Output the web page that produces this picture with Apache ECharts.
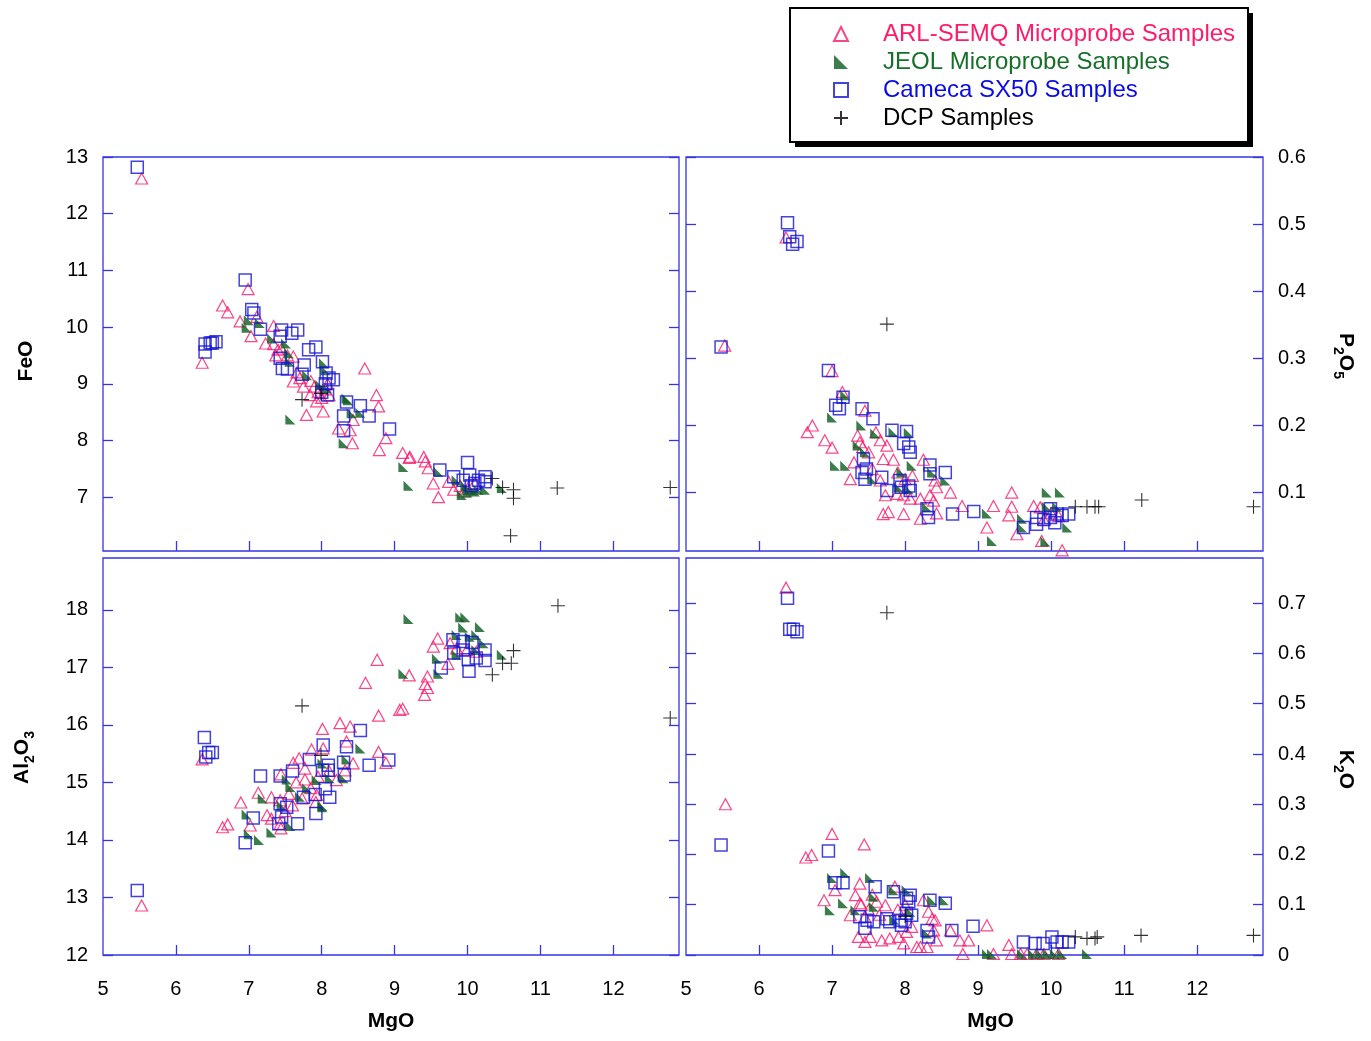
<!DOCTYPE html>
<html>
<head>
<meta charset="utf-8">
<title>MgO variation diagrams</title>
<script src="https://cdn.jsdelivr.net/npm/echarts@6/dist/echarts.min.js"></script>
<style>
  html, body { margin: 0; padding: 0; background: #fff; }
  #chart { width: 1371px; height: 1041px; }
</style>
</head>
<body>
<div id="chart"></div>
<script>
// tick labels
const mgoTicks = [5, 6, 7, 8, 9, 10, 11, 12]
const feoTicks = [7, 8, 9, 10, 11, 12, 13]
const p2o5Ticks = [0.1, 0.2, 0.3, 0.4, 0.5, 0.6]
const al2o3Ticks = [12, 13, 14, 15, 16, 17, 18]
const k2oTicks = [0, 0.1, 0.2, 0.3, 0.4, 0.5, 0.6, 0.7]

// FeO vs MgO  [MgO, FeO]
const feoArl = [[5.53,12.62],[6.99,10.67],[6.64,10.38],[6.71,10.26],[6.36,9.37],[7.11,10.18],[6.88,10.10],[7.03,9.84],[7.34,10.02],[7.23,9.71],[7.34,9.70],[7.40,9.60],[7.45,9.62],[7.37,9.50],[7.53,9.50],[7.61,9.48],[7.61,9.04],[7.75,8.95],[7.84,8.80],[7.93,8.69],[7.79,8.45],[8.02,8.51],[8.59,9.27],[8.75,8.80],[8.78,8.60],[8.23,8.21],[8.39,8.18],[8.43,8.36],[8.88,8.04],[8.42,7.95],[8.79,7.83],[9.11,7.78],[9.21,7.71],[9.40,7.71],[9.20,7.69],[9.42,7.63],[9.46,7.51],[9.53,7.24],[9.60,7.00],[9.74,7.27],[9.81,7.13],[7.95,8.85],[8.00,8.75],[8.05,8.90],[8.08,9.00],[7.85,9.05],[7.70,9.10],[7.66,9.20],[7.90,8.95],[8.10,8.80],[9.90,7.20],[10.00,7.15],[10.10,7.25],[9.95,7.10]]
const feoJeol = [[7.00,10.12],[6.97,9.99],[7.15,10.07],[7.32,9.80],[7.51,9.71],[7.55,9.54],[7.56,9.39],[8.03,9.36],[7.57,8.37],[8.36,8.71],[8.53,8.49],[8.41,8.48],[8.30,7.95],[9.12,7.53],[9.19,7.20],[9.60,7.45],[9.92,7.04],[10.03,7.13],[10.15,7.13],[10.24,7.13],[9.85,7.30],[10.47,7.16],[7.98,8.98],[8.07,8.92],[8.05,9.24],[8.34,8.74],[7.80,9.15],[10.00,7.08],[10.10,7.10],[9.97,7.20]]
const feoCam = [[5.47,12.82],[6.95,10.83],[6.40,9.70],[6.47,9.72],[6.50,9.72],[6.55,9.74],[6.40,9.56],[7.04,10.31],[7.07,10.25],[7.16,9.96],[7.45,9.95],[7.67,9.95],[7.43,9.84],[7.59,9.89],[7.43,9.45],[7.46,9.27],[7.53,9.26],[7.82,9.60],[7.92,9.65],[7.76,9.33],[8.01,9.39],[7.73,9.17],[8.06,9.19],[8.10,9.10],[8.16,9.07],[8.05,9.00],[8.00,8.85],[8.08,8.80],[8.34,8.68],[8.53,8.61],[8.65,8.43],[8.30,8.43],[8.30,8.17],[8.93,8.20],[9.62,7.48],[9.81,7.36],[10.00,7.61],[9.94,7.30],[10.03,7.39],[10.10,7.24],[10.24,7.36],[10.24,7.27],[10.05,7.20],[10.15,7.30]]
const feoDcp = [[7.73,8.72],[7.99,8.83],[10.34,7.33],[10.48,7.17],[10.63,7.13],[10.63,6.98],[11.23,7.16],[12.78,7.17],[10.59,6.32]]

// P2O5 vs MgO
const p2o5Arl = [[6.37,0.480],[5.53,0.319],[7.00,0.281],[7.14,0.250],[6.66,0.190],[6.73,0.200],[6.90,0.178],[7.00,0.167],[7.45,0.222],[7.38,0.175],[7.42,0.168],[7.30,0.145],[7.25,0.120],[7.66,0.178],[7.75,0.170],[7.70,0.150],[7.84,0.149],[8.25,0.149],[8.41,0.118],[8.43,0.108],[8.62,0.100],[7.66,0.118],[7.73,0.096],[7.89,0.098],[7.98,0.096],[8.07,0.091],[8.21,0.091],[8.34,0.096],[8.39,0.088],[7.70,0.068],[7.77,0.071],[7.98,0.068],[8.21,0.061],[8.43,0.069],[8.78,0.080],[9.21,0.080],[9.46,0.100],[9.46,0.079],[9.12,0.048],[9.42,0.066],[9.53,0.038],[9.76,0.080],[9.85,0.078],[9.87,0.028],[10.15,0.014],[7.50,0.160],[7.55,0.135],[7.60,0.190],[7.90,0.130],[8.00,0.120],[8.10,0.125],[7.35,0.185],[9.90,0.060],[10.00,0.070],[10.10,0.065]]
const p2o5Jeol = [[7.18,0.245],[7.00,0.212],[7.04,0.140],[7.18,0.140],[7.40,0.200],[7.59,0.188],[7.84,0.190],[8.05,0.189],[8.09,0.140],[8.37,0.130],[8.55,0.118],[7.91,0.108],[8.05,0.105],[8.30,0.078],[9.12,0.069],[9.19,0.028],[9.92,0.027],[9.94,0.100],[10.12,0.100],[9.94,0.079],[10.08,0.079],[9.60,0.061],[9.60,0.048],[10.22,0.048],[7.55,0.120],[7.45,0.160],[7.35,0.170],[7.95,0.130]]
const p2o5Cam = [[6.39,0.502],[6.42,0.481],[6.52,0.474],[6.46,0.470],[5.48,0.317],[6.95,0.282],[7.15,0.242],[7.05,0.230],[7.10,0.225],[7.41,0.225],[7.56,0.210],[7.82,0.193],[8.02,0.191],[7.98,0.173],[8.05,0.168],[8.07,0.160],[8.34,0.141],[8.55,0.130],[8.34,0.128],[7.68,0.123],[7.75,0.103],[7.93,0.118],[7.95,0.108],[8.05,0.110],[8.07,0.103],[7.41,0.130],[7.45,0.120],[7.47,0.135],[7.43,0.150],[8.30,0.076],[8.32,0.063],[8.65,0.068],[8.94,0.072],[9.62,0.048],[9.80,0.063],[9.80,0.053],[9.99,0.076],[9.99,0.063],[10.08,0.068],[10.15,0.066],[10.24,0.068],[10.05,0.055],[9.90,0.060]]
const p2o5Dcp = [[7.75,0.351],[10.33,0.079],[10.49,0.079],[10.60,0.079],[10.65,0.079],[11.24,0.089],[12.77,0.079]]

// Al2O3 vs MgO
const al2o3Arl = [[5.53,12.86],[6.36,15.40],[6.64,14.22],[6.71,14.27],[6.89,14.65],[7.02,14.25],[7.13,14.82],[7.44,15.14],[7.31,14.74],[7.43,14.69],[7.25,14.43],[7.31,14.37],[7.43,14.28],[7.44,14.20],[7.61,15.34],[7.69,15.42],[7.86,15.57],[7.77,15.24],[7.77,15.05],[7.73,14.72],[7.93,14.78],[7.92,14.66],[8.01,15.93],[8.02,15.59],[8.25,16.03],[8.39,15.97],[8.34,15.71],[8.43,15.33],[8.20,15.04],[8.32,15.21],[8.76,17.13],[8.60,16.73],[8.78,16.16],[8.78,15.53],[8.88,15.34],[9.07,16.26],[9.20,16.86],[9.41,16.52],[9.42,16.71],[9.45,16.84],[9.45,16.64],[9.11,16.28],[9.53,17.36],[9.59,17.50],[9.73,17.06],[9.76,17.42],[9.85,17.33],[9.99,17.30],[10.12,17.27],[7.55,14.80],[7.60,14.60],[7.85,14.90],[7.95,15.10],[8.10,15.20],[7.50,14.50],[7.65,15.00]]
const al2o3Jeol = [[6.97,14.44],[7.00,14.10],[7.14,14.00],[7.19,14.72],[7.52,15.05],[7.57,14.92],[7.31,14.13],[7.57,14.24],[7.70,14.75],[7.93,15.04],[8.01,14.59],[8.01,15.33],[8.11,15.07],[8.01,14.57],[8.53,15.59],[8.34,15.40],[8.30,15.07],[9.19,17.84],[9.12,16.89],[9.58,17.15],[9.60,16.89],[9.90,17.87],[9.97,17.87],[9.94,17.69],[10.17,17.70],[9.85,17.56],[10.03,17.53],[10.12,17.56],[10.22,17.42],[9.85,17.22],[10.12,17.30],[10.47,17.22],[7.45,14.60],[7.80,14.90]]
const al2o3Cam = [[5.47,13.12],[6.39,15.78],[6.45,15.52],[6.50,15.52],[6.41,15.44],[6.95,13.95],[7.06,14.38],[7.16,15.11],[7.43,15.11],[7.43,14.63],[7.52,14.57],[7.45,14.40],[7.41,14.28],[7.67,14.28],[7.60,15.20],[7.83,15.40],[7.75,14.74],[7.91,14.79],[7.92,14.46],[8.02,15.65],[8.01,15.21],[8.09,15.30],[8.09,15.21],[8.05,14.89],[8.11,14.74],[8.53,15.90],[8.34,15.62],[8.30,15.35],[8.31,15.13],[8.65,15.30],[8.92,15.39],[9.64,16.99],[9.80,17.48],[9.94,17.45],[10.06,17.43],[9.81,17.25],[9.94,17.30],[10.01,17.13],[10.12,17.16],[10.24,17.30],[10.24,17.12],[10.02,16.93]]
const al2o3Dcp = [[7.73,16.33],[7.99,15.47],[10.63,17.29],[10.48,17.07],[10.60,17.07],[10.34,16.87],[11.24,18.07],[12.78,16.12]]

// K2O vs MgO
const k2oArl = [[6.37,0.731],[5.54,0.300],[7.00,0.241],[6.64,0.194],[6.72,0.199],[7.44,0.220],[6.89,0.109],[7.04,0.129],[7.38,0.142],[7.32,0.119],[7.38,0.103],[7.25,0.079],[7.45,0.076],[7.61,0.106],[7.73,0.099],[7.86,0.136],[7.36,0.036],[7.45,0.026],[7.52,0.036],[7.68,0.029],[7.79,0.033],[7.91,0.036],[7.98,0.023],[8.09,0.056],[8.02,0.046],[8.16,0.016],[8.21,0.016],[8.25,0.109],[8.32,0.086],[8.37,0.072],[8.41,0.069],[8.39,0.049],[8.43,0.029],[8.30,0.016],[8.62,0.049],[8.75,0.029],[8.87,0.029],[8.79,0.002],[9.12,0.059],[9.21,0.002],[9.42,0.020],[9.46,0.002],[9.58,0.002],[9.67,0.002],[9.80,0.002],[9.90,0.002],[10.10,0.002],[7.50,0.090],[7.65,0.080],[7.90,0.090],[8.00,0.100],[7.55,0.120],[7.40,0.100]]
const k2oJeol = [[7.00,0.153],[7.18,0.163],[7.52,0.153],[6.97,0.089],[7.15,0.103],[7.57,0.116],[7.32,0.089],[7.57,0.096],[7.84,0.129],[8.02,0.129],[8.07,0.086],[8.37,0.109],[8.53,0.109],[8.30,0.043],[9.12,0.002],[9.19,0.002],[9.60,0.002],[9.75,0.002],[9.85,0.002],[9.95,0.002],[10.05,0.002],[10.15,0.002],[10.49,0.002],[7.85,0.070]]
const k2oCam = [[6.39,0.710],[6.42,0.648],[6.47,0.648],[6.52,0.643],[5.48,0.219],[6.95,0.207],[7.04,0.144],[7.15,0.144],[7.59,0.136],[7.38,0.076],[7.48,0.069],[7.57,0.066],[7.45,0.053],[7.75,0.072],[7.79,0.066],[7.93,0.069],[7.95,0.059],[7.84,0.126],[8.02,0.113],[8.05,0.106],[8.07,0.119],[8.02,0.083],[8.09,0.079],[8.00,0.066],[8.34,0.109],[8.55,0.103],[8.30,0.049],[8.32,0.036],[8.64,0.049],[8.93,0.057],[9.62,0.026],[9.78,0.023],[9.89,0.023],[10.01,0.036],[10.08,0.026],[10.15,0.026],[10.24,0.026]]
const k2oDcp = [[7.75,0.681],[8.00,0.077],[10.33,0.036],[10.49,0.033],[10.60,0.033],[10.63,0.036],[11.23,0.039],[12.77,0.039]]

const FONT = "'Liberation Sans', Arial, sans-serif"
const FRAME = '#3535e6'
const PINK = '#f7186c'
const GREEN = '#0b5d1f'
const BLUE = '#1414d2'

const KINDS = [
  { name: 'ARL-SEMQ Microprobe Samples', text: '#ff1a6a', symbol: 'triangle', size: [12, 11],
    itemStyle: { color: 'transparent', borderColor: PINK, borderWidth: 1.2 } },
  { name: 'JEOL Microprobe Samples', text: '#16702a', symbol: 'path://M0,0 L0,10 L10,10 Z', size: [10, 10],
    itemStyle: { color: GREEN, borderColor: GREEN, borderWidth: 0 } },
  { name: 'Cameca SX50 Samples', text: '#0a0ae6', symbol: 'rect', size: 12,
    itemStyle: { color: 'transparent', borderColor: BLUE, borderWidth: 1.5 } },
  { name: 'DCP Samples', text: '#000', symbol: 'path://M5,0 L5,10 M0,5 L10,5', size: 14,
    itemStyle: { color: '#000', borderColor: '#000', borderWidth: 1.1 } },
]

const panels = [
  { box: [103, 157, 576, 394], y: [6.05, 13], ticks: feoTicks, side: 'left', xLabel: false,
    name: '{b|FeO}', namePad: [0, 14, 0, 0], data: [feoArl, feoJeol, feoCam, feoDcp] },
  { box: [686, 157, 577, 394], y: [0.013, 0.6], ticks: p2o5Ticks, side: 'right', xLabel: false,
    name: '{b|P}{s|2}{b|O}{s|5}', namePad: [0, 0, 0, 4], data: [p2o5Arl, p2o5Jeol, p2o5Cam, p2o5Dcp] },
  { box: [103, 558, 576, 397], y: [12, 18.9], ticks: al2o3Ticks, side: 'left', xLabel: true,
    name: '{b|Al}{s|2}{b|O}{s|3}', namePad: [0, 2, 0, 0], data: [al2o3Arl, al2o3Jeol, al2o3Cam, al2o3Dcp] },
  { box: [686, 558, 577, 397], y: [0, 0.79], ticks: k2oTicks, side: 'right', xLabel: true,
    name: '{b|K}{s|2}{b|O}', namePad: [0, 0, 0, 26], data: [k2oArl, k2oJeol, k2oCam, k2oDcp] },
]

const tickStyle = { show: true, inside: true, length: 10, lineStyle: { color: FRAME, width: 1.3 } }
const labelStyle = { color: '#000', fontSize: 20, fontFamily: FONT }
const nameRich = {
  b: { fontSize: 21, fontWeight: 'bold', fontFamily: FONT, color: '#000', verticalAlign: 'top' },
  s: { fontSize: 14, fontWeight: 'bold', fontFamily: FONT, color: '#000', verticalAlign: 'bottom', padding: [11, 0, 0, 0] },
}

const grid = [], xAxis = [], yAxis = [], series = []
panels.forEach((p, i) => {
  grid.push({ left: p.box[0], top: p.box[1], width: p.box[2], height: p.box[3],
    show: true, borderColor: FRAME, borderWidth: 1.3, backgroundColor: 'transparent' })
  xAxis.push({
    type: 'value', gridIndex: i, min: 5, max: 12.9,
    axisLine: { show: false }, splitLine: { show: false },
    axisTick: { ...tickStyle, customValues: mgoTicks.slice(1) },
    axisLabel: { ...labelStyle, show: p.xLabel, margin: 24, customValues: mgoTicks },
    name: p.xLabel ? 'MgO' : '', nameLocation: 'middle', nameGap: 56,
    nameTextStyle: { fontSize: 21, fontWeight: 'bold', fontFamily: FONT, color: '#000',
      padding: i === 3 ? [0, 0, 0, 32] : 0 },
  })
  ;['left', 'right'].forEach(pos => {
    const main = pos === p.side
    yAxis.push({
      type: 'value', gridIndex: i, position: pos, min: p.y[0], max: p.y[1],
      axisLine: { show: false }, splitLine: { show: false },
      axisTick: { ...tickStyle, customValues: p.ticks },
      axisLabel: { ...labelStyle, show: main, margin: 15, customValues: p.ticks },
      name: main ? p.name : '', nameLocation: 'middle',
      nameRotate: pos === 'left' ? 90 : -90, nameGap: pos === 'left' ? 66 : 68,
      nameTextStyle: { rich: nameRich, padding: p.namePad },
    })
  })
  KINDS.forEach((k, j) => {
    series.push({
      type: 'scatter', name: k.name, xAxisIndex: i, yAxisIndex: i * 2,
      symbol: k.symbol, symbolSize: k.size, itemStyle: k.itemStyle,
      emphasis: { disabled: true }, data: p.data[j],
    })
  })
})

const chart = echarts.init(document.getElementById('chart'))
chart.setOption({
  animation: false,
  backgroundColor: '#fff',
  // legend frame: white box with a hard black drop shadow, then the outline on top
  graphic: [
    { type: 'rect', z: 1, shape: { x: 790, y: 8, width: 458, height: 134 },
      style: { fill: '#fff', shadowColor: '#000', shadowBlur: 0, shadowOffsetX: 5, shadowOffsetY: 5 } },
    { type: 'rect', z: 1, shape: { x: 790, y: 8, width: 458, height: 134 },
      style: { fill: null, stroke: '#000', lineWidth: 2 } },
  ],
  legend: {
    left: 790, top: 8, orient: 'vertical', selectedMode: false, z: 5,
    padding: [14, 14, 11, 43],
    itemWidth: 14, itemHeight: 14, itemGap: 4,
    textStyle: { fontSize: 24, fontFamily: FONT, padding: [0, 0, 0, 30] },
    data: KINDS.map(k => ({ name: k.name, textStyle: { color: k.text } })),
  },
  grid, xAxis, yAxis, series,
})
</script>
</body>
</html>
